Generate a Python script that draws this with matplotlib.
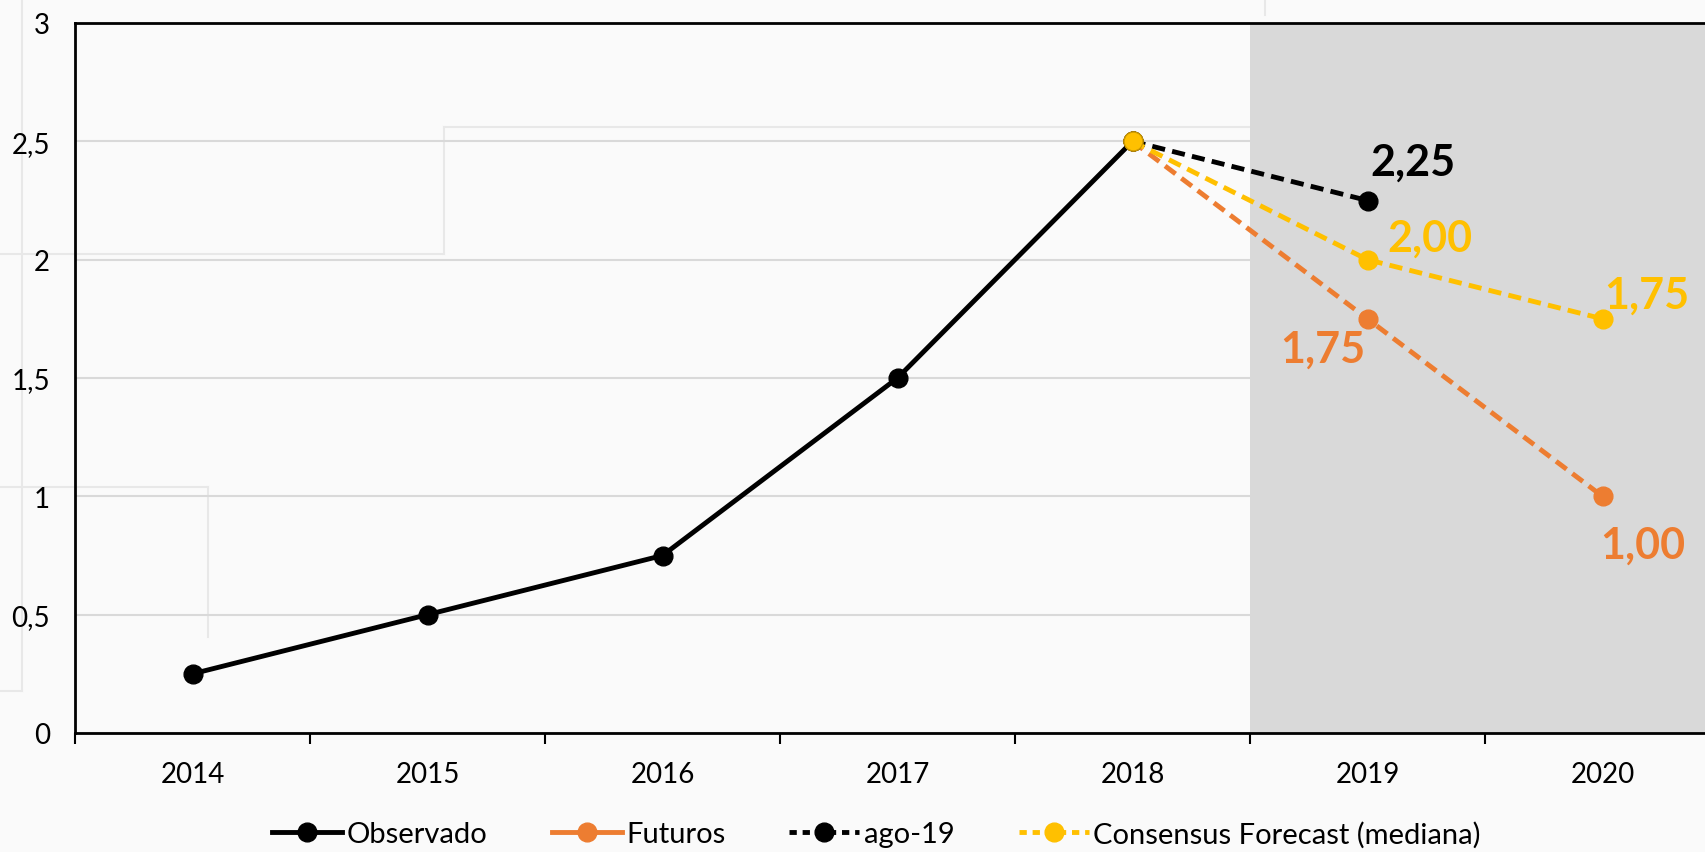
import matplotlib.pyplot as plt
from matplotlib.lines import Line2D
from matplotlib.ticker import FuncFormatter, FixedLocator

plt.rcParams['font.family'] = ['Lato', 'DejaVu Sans']

years = ["2014", "2015", "2016", "2017", "2018", "2019", "2020"]
observado = [0.25, 0.5, 0.75, 1.5, 2.5]
futuros = [2.5, 1.75, 1.0]
ago19 = [2.5, 2.25]
consensus = [2.5, 2.0, 1.75]

BLACK = "#000000"
ORANGE = "#ED7D31"
YELLOW = "#FFC000"
DASH = (0, (2.7, 1.5))
LW = 3.5
MS = 13.5

fig = plt.figure(figsize=(17.05, 8.53), dpi=100)
fig.patch.set_facecolor("#fafafa")

# faint watermark steps behind the chart
W, H = 1705.0, 853.0
wm = [
    ([22, 22], [0, 692]), ([0, 22], [692, 692]),
    ([0, 444], [255, 255]), ([444, 444], [255, 128]), ([444, 1250], [128, 128]),
    ([0, 208], [488, 488]), ([208, 208], [488, 638]),
    ([1265, 1265], [0, 16]),
]
for xs, ys in wm:
    fig.add_artist(Line2D([x / W for x in xs], [1 - y / H for y in ys],
                          color="#e8e8e8", lw=1.5, zorder=0))

ax = fig.add_axes([75 / W, 1 - 734 / H, 1 - 75 / W, (734 - 24) / H])
ax.patch.set_alpha(0)

x_obs = list(range(len(observado)))
x_fc = [4, 5, 6]
x_ago = [4, 5]

ax.axvspan(4.5, 7, color="#d9d9d9", zorder=1, lw=0)

ax.plot(x_fc, futuros, color=ORANGE, lw=LW, ls=DASH, marker="o", ms=MS, zorder=3)
ax.plot(x_ago, ago19, color=BLACK, lw=LW, ls=DASH, marker="o", ms=MS, zorder=3)
ax.plot(x_fc, consensus, color=YELLOW, lw=LW, ls=DASH, marker="o", ms=MS, zorder=4)
ax.plot(x_obs, observado, color=BLACK, lw=LW, marker="o", ms=MS, zorder=3)
ax.plot([4], [consensus[0]], marker="o", ms=MS, color=YELLOW, mec="#c79500", mew=0.8, zorder=5)

# data labels
lab = dict(fontsize=31, fontweight="bold", ha="center", va="center",
           textcoords="offset pixels", zorder=6)
ax.annotate("2,25", (5, ago19[1]), xytext=(45, 39), color=BLACK, **lab)
ax.annotate("2,00", (5, consensus[1]), xytext=(62, 22), color=YELLOW, **lab)
ax.annotate("1,75", (5, futuros[1]), xytext=(-45, -30), color=ORANGE, **lab)
ax.annotate("1,00", (6, futuros[2]), xytext=(40, -48), color=ORANGE, **lab)
ax.annotate("1,75", (6, consensus[2]), xytext=(44, 24), color=YELLOW, **lab)

ax.set_ylim(0, 3)
ax.set_xlim(-0.5, -0.5 + (W - 75) / 235)
ax.set_yticks([0, 0.5, 1, 1.5, 2, 2.5, 3])
ax.yaxis.set_major_formatter(FuncFormatter(lambda v, p: ("%g" % v).replace(".", ",")))
ax.grid(axis="y", color="#d9d9d9", lw=1.5, zorder=0)
ax.set_axisbelow(True)
ax.tick_params(axis="y", length=0, pad=18, labelsize=20)

ax.xaxis.set_major_locator(FixedLocator([i + 0.5 for i in range(-1, len(years))]))
ax.xaxis.set_major_formatter(FuncFormatter(lambda v, p: ""))
ax.xaxis.set_minor_locator(FixedLocator(range(len(years))))
ax.set_xticklabels(years, minor=True)
ax.tick_params(axis="x", which="major", length=8, width=1.5, direction="out")
ax.tick_params(axis="x", which="minor", length=0, pad=20, labelsize=20)

for s in ["left", "bottom", "top"]:
    ax.spines[s].set_linewidth(2)
    ax.spines[s].set_color(BLACK)
ax.spines["right"].set_visible(False)

handles = [
    Line2D([], [], color=BLACK, lw=LW, marker="o", ms=MS),
    Line2D([], [], color=ORANGE, lw=LW, marker="o", ms=MS),
    Line2D([], [], color=BLACK, lw=LW, ls=(0, (1.5, 1.2)), marker="o", ms=MS),
    Line2D([], [], color=YELLOW, lw=LW, ls=(0, (1.5, 1.2)), marker="o", ms=MS),
]
labels = ["Observado", "Futuros", "ago-19", "Consensus Forecast (mediana)"]
fig.legend(handles, labels, loc="center", bbox_to_anchor=(0.514, 1 - 835 / H), ncol=4,
           frameon=False, fontsize=21, handlelength=2.4, handletextpad=0.15, columnspacing=2.2)

fig.savefig("out.png", dpi=100, facecolor=fig.get_facecolor())
